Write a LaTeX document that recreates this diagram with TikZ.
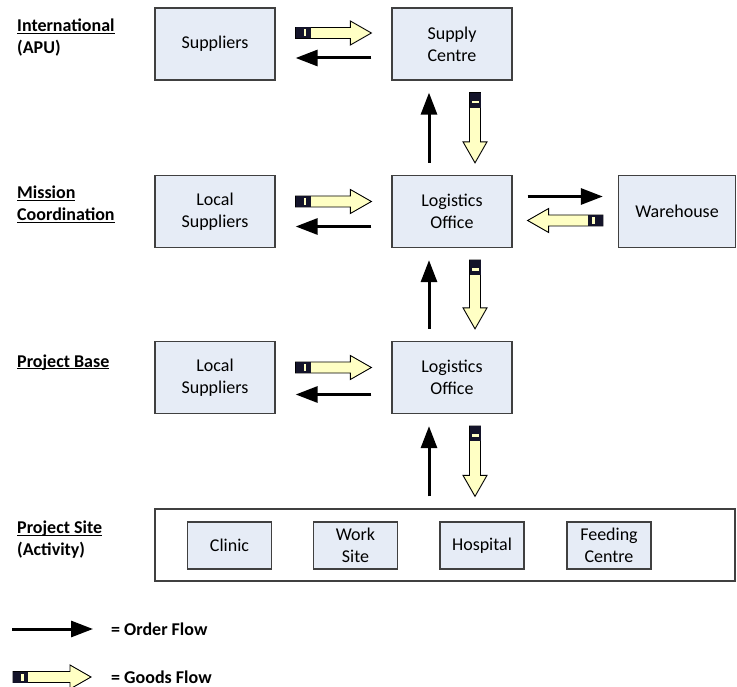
\documentclass[tikz,border=0pt]{standalone}
\usepackage{fontspec}
\setmainfont{Carlito}
\usetikzlibrary{arrows.meta,decorations.markings,calc}
\definecolor{boxfill}{HTML}{E6ECF6}
\definecolor{boxline}{HTML}{404040}
\definecolor{goodsfill}{HTML}{FFFFC4}
\definecolor{goodstail}{HTML}{14142A}

\begin{document}
\begin{tikzpicture}[x=1pt, y=1pt, every node/.style={font=\fontsize{18}{22}\selectfont}]
    % Stile
    \tikzstyle{unit}=[draw=boxline, line width=1.3pt, fill=boxfill, minimum width=120pt, minimum height=72pt, align=center, inner sep=0pt]
    \tikzstyle{site}=[unit, minimum width=84pt, minimum height=47pt]
    \tikzstyle{level}=[anchor=west, align=left, inner sep=0pt, font=\fontsize{18}{22}\selectfont\bfseries]
    \tikzset{
      order/.style={line width=3pt, -{Triangle[length=22pt, width=16pt]}, shorten <=#1, shorten >=#1},
      order/.default=20pt,
      goods/.style={postaction={decorate, decoration={markings, mark=at position 0 with {
          \filldraw[fill=goodsfill, draw=black, line width=0.9pt]
            (#1,-5.5pt) -- (\pgfdecoratedpathlength-#1-21pt,-5.5pt) -- ++(0,-6.5pt)
            -- (\pgfdecoratedpathlength-#1,0pt) -- ++(-21pt,12pt) -- ++(0,-6.5pt) -- (#1,5.5pt) -- cycle;
          \fill[goodstail] (#1,-5.5pt) rectangle ++(15pt,11pt);
          \fill[goodsfill] (#1+8pt,-3.5pt) rectangle ++(2.5pt,7pt);}}}},
      goods/.default=20pt
    }
    \useasboundingbox (0,0) rectangle (737,-687);

    % Ebenen links
    \node[level] (intl) at (17,-44) {\underline{\smash{International}}\\(APU)};
    \node[level] (mission) at (17,-211) {\underline{\smash{Mission}}\\\underline{\smash{Coordination}}};
    \node[level] (base) at (17,-368) {\underline{\smash{Project Base}}};
    \node[level] (activity) at (17,-546) {\underline{\smash{Project Site}}\\(Activity)};

    % Boxen
    \node[unit] (sup) at (215,-44) {Suppliers};
    \node[unit] (sc) at (452,-44) {Supply\\Centre};
    \node[unit] (ls1) at (215,-211.5) {Local\\Suppliers};
    \node[unit] (lo1) at (452,-211.5) {Logistics\\Office};
    \node[unit, minimum width=117pt] (wh) at (677,-211.5) {Warehouse};
    \node[unit] (ls2) at (215,-377.5) {Local\\Suppliers};
    \node[unit] (lo2) at (452,-377.5) {Logistics\\Office};

    % Projektstandort
    \node[draw=boxline, line width=1.3pt, minimum width=580pt, minimum height=72pt, inner sep=0pt] (site) at (445,-545) {};
    \node[site] (clinic) at (229.5,-545.5) {Clinic};
    \node[site] (work) at (355.5,-545.5) {Work\\Site};
    \node[site] (hosp) at (482,-545.5) {Hospital};
    \node[site] (feed) at (609,-545.5) {Feeding\\Centre};

    % Flüsse
    \path[goods] ([yshift=11pt]sup.east) -- ([yshift=11pt]sc.west);
    \draw[order] ([yshift=-14pt]sc.west) -- ([yshift=-14pt]sup.east);
    \draw[order=12pt] ([xshift=-23pt]lo1.north) -- ([xshift=-23pt]sc.south);
    \path[goods=12pt] ([xshift=23pt]sc.south) -- ([xshift=23pt]lo1.north);

    \path[goods] ([yshift=10pt]ls1.east) -- ([yshift=10pt]lo1.west);
    \draw[order] ([yshift=-15pt]lo1.west) -- ([yshift=-15pt]ls1.east);
    \draw[order=15pt] ([yshift=15pt]lo1.east) -- ([yshift=15pt]wh.west);
    \path[goods=15pt] ([yshift=-9pt]wh.west) -- ([yshift=-9pt]lo1.east);
    \draw[order=12pt] ([xshift=-23pt]lo2.north) -- ([xshift=-23pt]lo1.south);
    \path[goods=12pt] ([xshift=23pt]lo1.south) -- ([xshift=23pt]lo2.north);

    \path[goods] ([yshift=10pt]ls2.east) -- ([yshift=10pt]lo2.west);
    \draw[order] ([yshift=-17pt]lo2.west) -- ([yshift=-17pt]ls2.east);
    \draw[order=12pt] ([xshift=-23pt]lo2.south |- site.north) -- ([xshift=-23pt]lo2.south);
    \path[goods=12pt] ([xshift=23pt]lo2.south) -- ([xshift=23pt]lo2.south |- site.north);

    % Legende
    \coordinate (ordkey) at (12,-629);
    \node[level] (ordtxt) at (111,-629) {= Order Flow};
    \draw[order=0pt] (ordkey) -- ([xshift=-18pt]ordtxt.west);
    \coordinate (goodskey) at (13,-677);
    \node[level] (goodstxt) at (111,-677) {= Goods Flow};
    \path[goods=0pt] (goodskey) -- ([xshift=-20pt]goodstxt.west);
\end{tikzpicture}
\end{document}
